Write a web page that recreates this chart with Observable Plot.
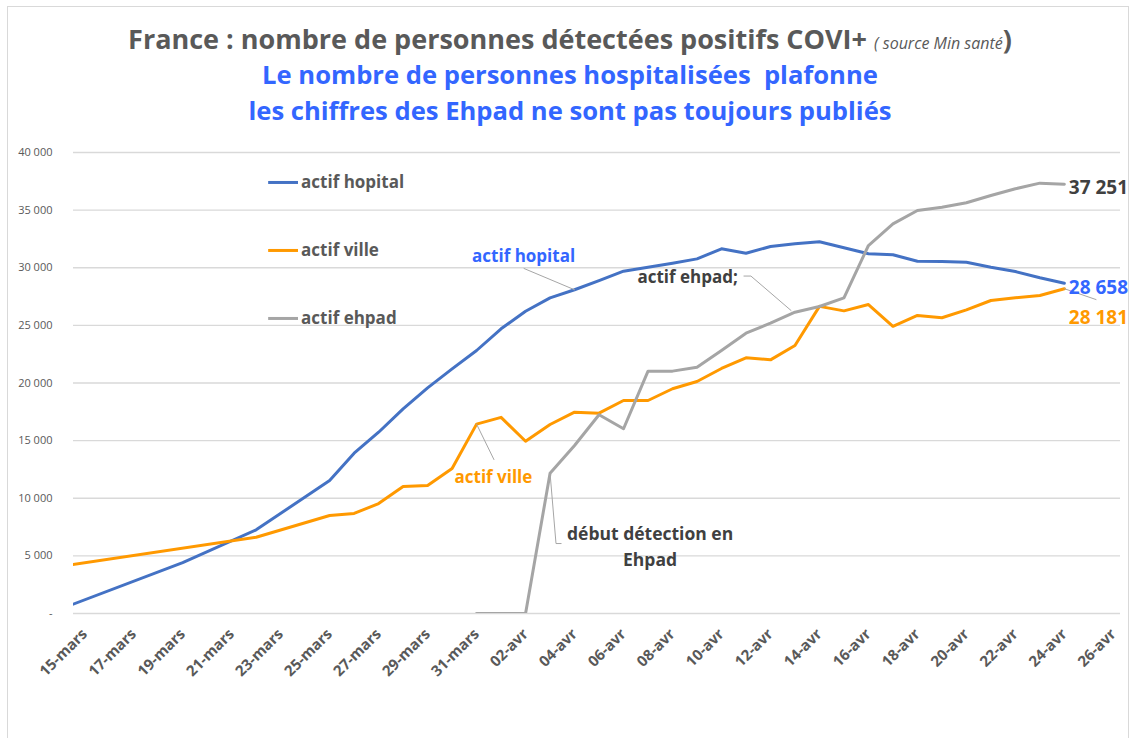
<!DOCTYPE html>
<html>
<head>
<meta charset="utf-8">
<script src="https://cdn.jsdelivr.net/npm/d3@7"></script>
<script src="https://cdn.jsdelivr.net/npm/@observablehq/plot@0.6"></script>
<style>
  html, body { margin: 0; padding: 0; background: #ffffff; }
  #frame { position: absolute; left: 7px; top: 6px; width: 1122px; height: 740px; border: 1px solid #d9d9d9; box-sizing: border-box; }
  #titles { position: absolute; left: 0; top: 21px; width: 1140px; text-align: center; font-family: 'Open Sans', sans-serif; font-weight: bold; }
  .t1 { color: #595959; font-size: 27px; line-height: 36px; height: 36px; white-space: nowrap; }
  .t1 .src { font-style: italic; font-weight: normal; font-size: 16px; }
  .t2, .t3 { color: #3366ff; font-size: 25.6px; line-height: 36px; height: 36px; white-space: nowrap; }
  #chart { position: absolute; left: 0; top: 140px; }
</style>
</head>
<body>
<div id="frame"></div>
<div id="titles">
  <div class="t1">France : nombre de personnes détectées positifs COVI+ <span class="src">( source Min santé</span>)</div>
  <div class="t2">Le nombre de personnes hospitalisées&nbsp; plafonne</div>
  <div class="t3">les chiffres des Ehpad ne sont pas toujours publiés</div>
</div>
<div id="chart"></div>
<script>
// ---- data ----
const dates = [
  "2020-03-14","2020-03-15","2020-03-16","2020-03-17","2020-03-18","2020-03-19","2020-03-20",
  "2020-03-21","2020-03-22","2020-03-23","2020-03-24","2020-03-25","2020-03-26","2020-03-27",
  "2020-03-28","2020-03-29","2020-03-30","2020-03-31","2020-04-01","2020-04-02","2020-04-03",
  "2020-04-04","2020-04-05","2020-04-06","2020-04-07","2020-04-08","2020-04-09","2020-04-10",
  "2020-04-11","2020-04-12","2020-04-13","2020-04-14","2020-04-15","2020-04-16","2020-04-17",
  "2020-04-18","2020-04-19","2020-04-20","2020-04-21","2020-04-22","2020-04-23","2020-04-24"
];
const actifHopital = [
  380, null, null, null, null, 4420, null,
  null, 7260, null, null, 11540, 13910, 15730,
  17760, 19580, 21230, 22820, 24700, 26230, 27390,
  28090, 28890, 29700, 30050, 30390, 30770, 31640,
  31260, 31840, 32080, 32250, 31730, 31210, 31130,
  30570, 30540, 30480, 30050, 29670, 29130, 28658
];
const actifVille = [
  4080, null, null, null, null, null, null,
  null, 6620, null, null, 8500, 8680, 9540,
  11020, 11110, 12580, 16430, 17020, 14950, 16400,
  17470, 17380, 18480, 18480, 19500, 20130, 21260,
  22190, 22010, 23250, 26650, 26260, 26810, 24920,
  25860, 25660, 26350, 27160, 27390, 27590, 28181
];
const actifEhpad = [
  null, null, null, null, null, null, null,
  null, null, null, null, null, null, null,
  null, null, null, 0, 0, 0, 12170,
  14580, 17240, 16030, 21030, 21030, 21370, 22820,
  24320, 25190, 26140, 26640, 27390, 31930, 33810,
  34970, 35250, 35640, 36270, 36850, 37340, 37251
];
const seriesNames = ["actif hopital", "actif ville", "actif ehpad"];
const seriesColors = ["#4472c4", "#ff9900", "#a5a5a5"];
const tickDates = [
  "2020-03-15","2020-03-17","2020-03-19","2020-03-21","2020-03-23","2020-03-25","2020-03-27",
  "2020-03-29","2020-03-31","2020-04-02","2020-04-04","2020-04-06","2020-04-08","2020-04-10",
  "2020-04-12","2020-04-14","2020-04-16","2020-04-18","2020-04-20","2020-04-22","2020-04-24","2020-04-26"
];
const tickLabels = [
  "15-mars","17-mars","19-mars","21-mars","23-mars","25-mars","27-mars",
  "29-mars","31-mars","02-avr","04-avr","06-avr","08-avr","10-avr",
  "12-avr","14-avr","16-avr","18-avr","20-avr","22-avr","24-avr","26-avr"
];
const yTicks = [0, 5000, 10000, 15000, 20000, 25000, 30000, 35000, 40000];

// ---- build ----
const parse = d3.utcParse("%Y-%m-%d");
const fr = d3.formatLocale({decimal: ",", thousands: " ", grouping: [3], currency: ["", " €"]});
const fmt = fr.format(",");
const rows = [];
[actifHopital, actifVille, actifEhpad].forEach((vals, s) => {
  vals.forEach((v, i) => { if (v !== null) rows.push({date: parse(dates[i]), value: v, serie: seriesNames[s]}); });
});
const tickMap = new Map(tickDates.map((d, i) => [+parse(d), tickLabels[i]]));
const t = (s) => new Date(s);
const last = (arr) => arr[arr.length - 1];
const lastDate = parse(last(dates));

const xDomain = [d3.utcHour.offset(parse("2020-03-15"), -10.3), d3.utcHour.offset(parse("2020-04-26"), 7.3)];
const bold = {fontWeight: "bold"};

const legendRows = seriesNames.map((n, i) => ({name: n, color: seriesColors[i], y: [37400, 31500, 25600][i]}));

const chart = Plot.plot({
  width: 1135,
  height: 598,
  marginTop: 12,
  marginBottom: 125,
  marginLeft: 73,
  marginRight: 15,
  style: {fontFamily: "'Open Sans', sans-serif", background: "transparent", overflow: "visible"},
  x: {type: "utc", domain: xDomain},
  y: {domain: [0, 40000]},
  color: {domain: seriesNames, range: seriesColors},
  marks: [
    Plot.gridY(yTicks, {stroke: "#d9d9d9", strokeOpacity: 1, strokeWidth: 1.3}),
    Plot.axisY(yTicks, {tickFormat: d => d === 0 ? "-" : fmt(d), tickSize: 0, tickPadding: 21, fontSize: 11, color: "#595959", label: null}),
    Plot.axisX(tickDates.map(parse), {tickFormat: d => tickMap.get(+d), tickSize: 0, tickPadding: 18, tickRotate: -45, fontSize: 15, fontWeight: "bold", color: "#595959", label: null}),
    Plot.line(rows, {x: "date", y: "value", z: "serie", stroke: "serie", strokeWidth: 3, clip: true, strokeLinejoin: "round"}),
    // legend
    Plot.link(legendRows, {x1: () => t("2020-03-22T11:45Z"), x2: () => t("2020-03-23T17:00Z"), y1: "y", y2: "y", stroke: "color", strokeWidth: 3}),
    Plot.text(legendRows, {x: () => t("2020-03-23T20:00Z"), y: "y", text: "name", textAnchor: "start", fill: "#595959", fontSize: 17, ...bold}),
    // annotations: leaders
    Plot.line([
      {x: t("2020-04-01T22:30Z"), y: 29935}, {x: parse("2020-04-04"), y: 28090}
    ], {x: "x", y: "y", stroke: "#a6a6a6", strokeWidth: 1}),
    Plot.line([
      {x: t("2020-04-10T22:00Z"), y: 29280}, {x: t("2020-04-11T04:50Z"), y: 29280}, {x: t("2020-04-12T20:10Z"), y: 26290}
    ], {x: "x", y: "y", stroke: "#a6a6a6", strokeWidth: 1}),
    Plot.line([
      {x: parse("2020-03-31"), y: 16430}, {x: t("2020-03-31T17:00Z"), y: 13360}
    ], {x: "x", y: "y", stroke: "#a6a6a6", strokeWidth: 1}),
    Plot.line([
      {x: parse("2020-04-03"), y: 12170}, {x: t("2020-04-03T05:50Z"), y: 6070}, {x: t("2020-04-03T10:50Z"), y: 6070}
    ], {x: "x", y: "y", stroke: "#a6a6a6", strokeWidth: 1}),
    Plot.line([
      {x: lastDate, y: last(actifVille)}, {x: t("2020-04-25T07:00Z"), y: 27240}
    ], {x: "x", y: "y", stroke: "#a6a6a6", strokeWidth: 1}),
    // annotation texts
    Plot.text(["actif hopital"], {x: () => t("2020-04-01T22:05Z"), y: () => 30980, text: d => d, fill: "#3366ff", fontSize: 17, ...bold}),
    Plot.text(["actif ehpad;"], {x: () => t("2020-04-10T16:00Z"), y: () => 29150, text: d => d, textAnchor: "end", fill: "#404040", fontSize: 17, ...bold}),
    Plot.text(["actif ville"], {x: () => t("2020-03-31T16:30Z"), y: () => 11800, text: d => d, fill: "#ff9900", fontSize: 17, ...bold}),
    Plot.text(["début détection en\nEhpad"], {x: () => t("2020-04-07T02:00Z"), y: () => 5940, text: d => d, fill: "#404040", fontSize: 17.5, lineHeight: 1.45, ...bold}),
    // end labels
    Plot.text([last(actifEhpad)], {x: () => t("2020-04-24T04:20Z"), y: () => 36960, text: d => fmt(d), textAnchor: "start", fill: "#404040", fontSize: 19, ...bold}),
    Plot.text([last(actifHopital)], {x: () => t("2020-04-24T04:20Z"), y: () => 28290, text: d => fmt(d), textAnchor: "start", fill: "#3366ff", fontSize: 19, ...bold}),
    Plot.text([last(actifVille)], {x: () => t("2020-04-24T04:20Z"), y: () => 25680, text: d => fmt(d), textAnchor: "start", fill: "#ff9900", fontSize: 19, ...bold})
  ]
});
document.getElementById("chart").appendChild(chart);
</script>
</body>
</html>
